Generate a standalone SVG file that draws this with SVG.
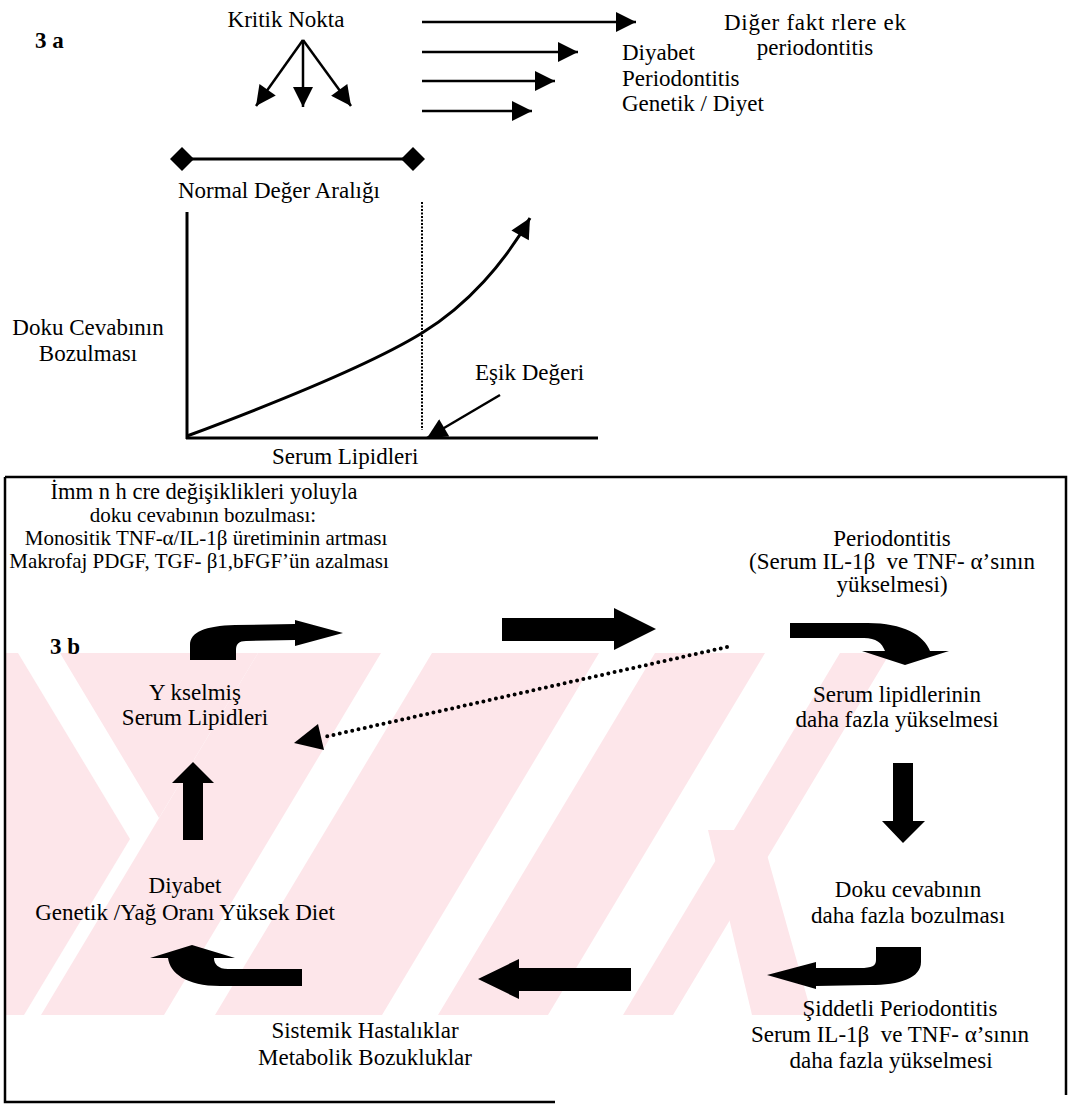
<svg xmlns="http://www.w3.org/2000/svg" width="1070" height="1104" viewBox="0 0 1070 1104">
<style>
text{font-family:"Liberation Serif","Times New Roman",serif;font-size:23px;fill:#000}
.c{text-anchor:middle}
.b{font-weight:bold}
.tl{font-size:21px}
.ln{stroke:#000;stroke-width:2.5;fill:none}
.ax{stroke:#000;stroke-width:3;fill:none}
.blk{fill:#000;stroke:none}
.dot{stroke:#000;stroke-width:4;stroke-linecap:round;stroke-dasharray:0 6.4;fill:none}
.wm{fill:#fde6ea;stroke:none}
</style>
<defs>
<marker id="ah" viewBox="0 0 10 10" refX="10" refY="5" markerUnits="userSpaceOnUse" markerWidth="22" markerHeight="20" orient="auto"><path d="M0,0 L10,5 L0,10 z" fill="#000"/></marker>
<marker id="ahs" viewBox="0 0 10 10" refX="10" refY="5" markerUnits="userSpaceOnUse" markerWidth="20" markerHeight="20" orient="auto"><path d="M0,0 L10,5 L0,10 z" fill="#000"/></marker>
<clipPath id="wmclip"><rect x="6" y="653" width="1058" height="362"/></clipPath>
</defs>

<g id="watermark" clip-path="url(#wmclip)">
<polygon class="wm" points="6,653 18,653 130,839 24,1015 6,1015"/>
<polygon class="wm" points="60,653 258,653 159,818"/>
<polygon class="wm" points="258,653 381,653 164,1015 41,1015"/>
<polygon class="wm" points="432,653 599,653 382,1015 215,1015"/>
<polygon class="wm" points="655,653 765,653 548,1015 438,1015"/>
<polygon class="wm" points="840,653 890,653 673,1015 623,1015"/>
<polygon class="wm" points="708,830 760,830 812,1015 752,1015"/>
</g>

<g id="frame">
<path class="ln" d="M5,477 H1066 V1095"/>
<path class="ln" d="M5,477 V1102 H555"/>
</g>

<g id="connectors">
<line class="ln" x1="303" y1="40" x2="256" y2="106" marker-end="url(#ah)"/>
<line class="ln" x1="303" y1="40" x2="303" y2="107" marker-end="url(#ah)"/>
<line class="ln" x1="303" y1="40" x2="351" y2="106" marker-end="url(#ah)"/>
<line class="ln" x1="422" y1="22" x2="636" y2="22" marker-end="url(#ahs)"/>
<line class="ln" x1="422" y1="52" x2="578" y2="52" marker-end="url(#ahs)"/>
<line class="ln" x1="422" y1="81" x2="555" y2="81" marker-end="url(#ahs)"/>
<line class="ln" x1="422" y1="111" x2="532" y2="111" marker-end="url(#ahs)"/>
<line class="ax" x1="182" y1="159" x2="413" y2="159"/>
<polygon class="blk" points="170,159 182,147 194,159 182,171"/>
<polygon class="blk" points="401,159 413,147 425,159 413,171"/>
<line class="ax" x1="187" y1="212" x2="187" y2="439"/>
<line class="ax" x1="186" y1="438" x2="598" y2="438"/>
<line x1="422" y1="202" x2="422" y2="430" stroke="#000" stroke-width="2" stroke-dasharray="2 1.5"/>
<path class="ax" d="M187,436 C270,405 370,365 422,333 C468,305 505,262 530,218" marker-end="url(#ah)"/>
<line class="ln" x1="500" y1="395" x2="427" y2="438" marker-end="url(#ah)"/>

<path class="blk" d="M190,660 L190,645 C190,632 205,626 235,625 L295,624 L295,620 L343,633 L295,646 L295,640 L246,641 C239,641 236,644 236,650 L236,660 Z"/>
<path class="blk" d="M502,618 L614,618 L614,608 L656,629 L614,650 L614,641 L502,641 Z"/>
<path class="blk" d="M790,623 L868,623 C903,623 924,635 930,651 L949,651 L905,665 L862,651 L885,651 C882,643 876,638 864,638 L790,638 Z"/>
<path class="blk" d="M893,763 L913,763 L913,821 L925,821 L903,843 L882,821 L893,821 Z"/>
<path class="blk" d="M921,947 L921,962 C921,978 900,985 870,985 L816,986 L816,989 L767,975 L816,962 L816,968 L860,968 C872,968 876,966 876,960 L876,947 Z"/>
<path class="blk" d="M631,968 L519,968 L519,959 L478,979 L519,999 L519,991 L631,991 Z"/>
<path class="blk" d="M150,958 L192,945 L235,958 L214,958 C214,964 218,969 228,969 L302,969 L302,986 L220,986 C186,986 170,973 168,958 Z"/>
<path class="blk" d="M183,840 L183,783 L172,783 L193,762 L214,783 L203,783 L203,840 Z"/>
<line class="dot" x1="727" y1="647" x2="324" y2="737"/>
<polygon class="blk" points="294,743 324,750 318,724"/>
</g>

<g id="n-3a"><text class="b" x="35" y="48">3 a</text></g>
<g id="n-kritik"><text class="c" x="286" y="27">Kritik Nokta</text></g>
<g id="n-diger"><text class="c" x="815" y="30" textLength="182" lengthAdjust="spacing">Diğer fakt rlere ek</text><text class="c" x="815" y="55">periodontitis</text></g>
<g id="n-factors"><text x="622" y="60">Diyabet</text><text x="622" y="86">Periodontitis</text><text x="622" y="111">Genetik / Diyet</text></g>
<g id="n-normal"><text x="178" y="198">Normal Değer Aralığı</text></g>
<g id="n-doku"><text class="c" x="88" y="335">Doku Cevabının</text><text class="c" x="88" y="361">Bozulması</text></g>
<g id="n-esik"><text x="475" y="380">Eşik Değeri</text></g>
<g id="n-serumaxis"><text x="272" y="464">Serum Lipidleri</text></g>

<g id="n-immun"><text class="c" x="204" y="499" style="font-size:22.5px">İmm n h cre değişiklikleri yoluyla</text><text class="c tl" x="203" y="522">doku cevabının bozulması:</text><text class="c tl" x="206" y="545">Monositik TNF-α/IL-1β üretiminin artması</text><text class="c tl" x="199" y="568">Makrofaj PDGF, TGF- β1,bFGF’ün azalması</text></g>
<g id="n-perio"><text class="c" x="892" y="546">Periodontitis</text><text class="c" x="892" y="569" xml:space="preserve">(Serum IL-1β  ve TNF- α’sının</text><text class="c" x="892" y="592">yükselmesi)</text></g>
<g id="n-3b"><text class="b" x="50" y="654">3 b</text></g>
<g id="n-yuksel"><text class="c" x="195" y="700">Y kselmiş</text><text class="c" x="195" y="725">Serum Lipidleri</text></g>
<g id="n-lipid2"><text class="c" x="897" y="702">Serum lipidlerinin</text><text class="c" x="897" y="727">daha fazla yükselmesi</text></g>
<g id="n-diyabet"><text class="c" x="185" y="893">Diyabet</text><text class="c" x="185" y="920">Genetik /Yağ Oranı Yüksek Diet</text></g>
<g id="n-doku2"><text class="c" x="908" y="897">Doku cevabının</text><text class="c" x="908" y="923">daha fazla bozulması</text></g>
<g id="n-siddetli"><text class="c" x="900" y="1016">Şiddetli Periodontitis</text><text class="c" x="890" y="1042" xml:space="preserve">Serum IL-1β  ve TNF- α’sının</text><text class="c" x="891" y="1068">daha fazla yükselmesi</text></g>
<g id="n-sistemik"><text class="c" x="365" y="1038">Sistemik Hastalıklar</text><text class="c" x="365" y="1065">Metabolik Bozukluklar</text></g>
</svg>
